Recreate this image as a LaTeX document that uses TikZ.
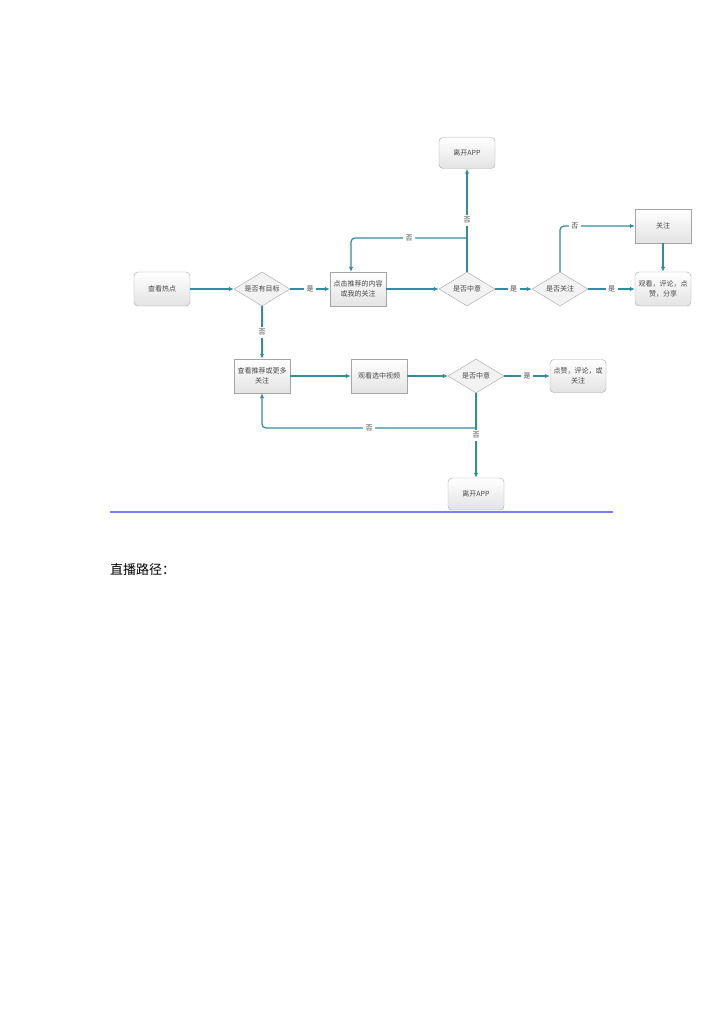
\documentclass[tikz,border=0pt]{standalone}
\usepackage{fontspec}
\newfontfamily\cjk{Noto Sans CJK SC}
\usetikzlibrary{shapes.geometric,arrows.meta}
\definecolor{conncol}{RGB}{52,140,160}
\definecolor{bordcol}{RGB}{165,165,165}
\definecolor{bluecol}{RGB}{125,125,250}
\definecolor{txtcol}{RGB}{70,70,70}
\tikzset{
  boxbase/.style={draw=bordcol, top color=white, bottom color=gray!22, minimum width=56pt, minimum height=34pt, font=\cjk\fontsize{7}{10}\selectfont, text=txtcol, align=center, inner sep=1pt},
  rbox/.style={boxbase, rounded corners=4pt},
  sbox/.style={boxbase},
  dia/.style={diamond, draw=bordcol, fill=gray!10, minimum width=56pt, minimum height=34pt, inner sep=0pt},
  dlab/.style={font=\cjk\fontsize{7}{10}\selectfont, text=txtcol},
  conn/.style={draw=conncol, line width=1.2pt, -{Latex[length=5pt,width=4.5pt]}},
  lbl/.style={fill=white, font=\cjk\fontsize{7}{10}\selectfont, text=txtcol, inner sep=2.5pt},
}
\begin{document}
\begin{tikzpicture}[x=1pt,y=-1pt]
\useasboundingbox (0,0) rectangle (724,1024);
\fill[white] (0,0) rectangle (724,1024);
% nodes
\node[rbox] (hot) at (162,289) {查看热点};
\node[dia, label={[dlab]center:是否有目标}] (q1) at (262,289) {};
\node[sbox] (click) at (358,289) {点击推荐的内容\\或我的关注};
\node[dia, label={[dlab]center:是否中意}] (q2) at (467,289) {};
\node[dia, label={[dlab]center:是否关注}] (q3) at (560,289) {};
\node[rbox] (watch) at (663,289) {观看，评论，点\\赞，分享};
\node[sbox] (follow) at (663,226) {关注};
\node[rbox, minimum height=31pt] (leave1) at (467,153) {离开APP};
\node[sbox] (more) at (262,376) {查看推荐或更多\\关注};
\node[sbox] (sel) at (379,376) {观看选中视频};
\node[dia, label={[dlab]center:是否中意}] (q4) at (476,376) {};
\node[rbox, minimum height=33pt] (like) at (578,376) {点赞，评论，或\\关注};
\node[rbox, minimum height=32pt] (leave2) at (476,494) {离开APP};
% connectors
\draw[conn] (hot) -- (q1);
\draw[conn] (q1) -- node[lbl]{是} (click);
\draw[conn] (q1) -- node[lbl]{否} (more);
\draw[conn] (click) -- (q2);
\draw[conn] (q2) -- node[lbl]{否} (leave1);
\coordinate (j1) at (467,238);
\draw[conn, rounded corners=4pt] (j1) -| node[lbl,pos=0.25]{否} ([xshift=-7pt]click.north);
\draw[conn] (q2) -- node[lbl]{是} (q3);
\draw[conn] (q3) -- node[lbl]{是} (watch);
\draw[conn, rounded corners=4pt] (q3.north) |- node[lbl,pos=0.6]{否} (follow);
\draw[conn] (follow) -- (watch);
\draw[conn] (more) -- (sel);
\draw[conn] (sel) -- (q4);
\draw[conn] (q4) -- node[lbl]{是} (like);
\draw[conn] (q4) -- node[lbl]{否} (leave2);
\coordinate (j2) at (476,428);
\draw[conn, rounded corners=4pt] (j2) -| node[lbl,pos=0.25]{否} (more);
% page elements
\draw[bluecol, line width=1.3pt] (110,512) -- (613,512);
\node[anchor=west, font=\cjk\fontsize{13}{15}\selectfont, inner sep=0pt] (title) at (110,570) {直播路径：};
\end{tikzpicture}
\end{document}
